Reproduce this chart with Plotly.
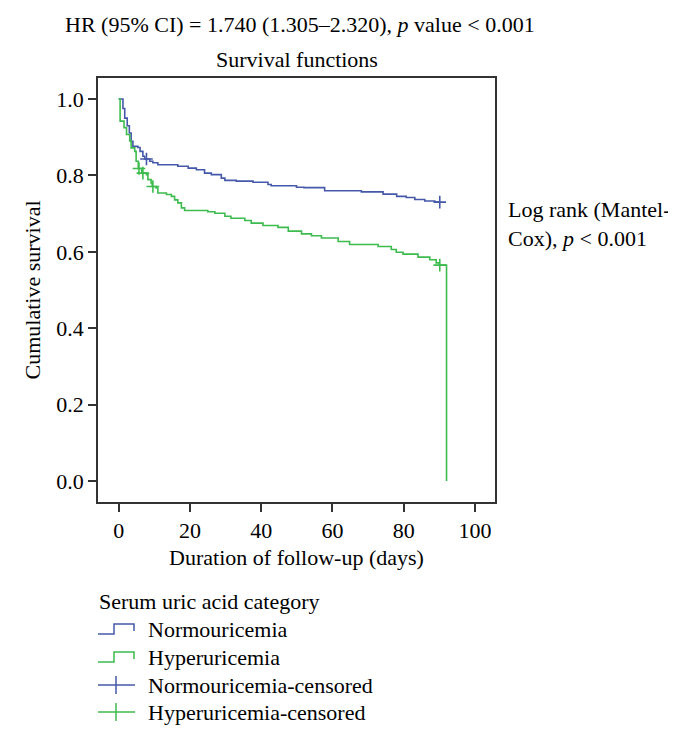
import plotly.graph_objects as go

# ---- data ----
normo_days = [0, 1.2, 1.7, 2.4, 3.0, 3.5, 4.0, 5.4, 6.0, 6.8, 7.3, 8.7, 9.6, 11.0, 16.6, 19.5, 21.8,
              24.1, 26.0, 28.8, 29.8, 33.0, 37.7, 41.9, 42.8, 49.9, 52.0, 57.8, 68.1, 74.2, 78.0,
              80.7, 83.1, 85.9, 88.7, 90.1]
normo_surv = [1.0, 0.975, 0.95, 0.93, 0.911, 0.889, 0.876, 0.873, 0.863, 0.85, 0.843, 0.837, 0.833,
              0.828, 0.824, 0.819, 0.815, 0.806, 0.802, 0.793, 0.787, 0.785, 0.782, 0.776, 0.773,
              0.769, 0.768, 0.760, 0.757, 0.751, 0.745, 0.742, 0.737, 0.733, 0.730, 0.730]

hyper_days = [0, 0.4, 1.5, 2.2, 3.1, 3.5, 4.5, 4.9, 5.5, 6.5, 7.8, 8.2, 9.1, 9.4, 10.5, 11.0, 13.4,
              14.8, 15.7, 16.6, 17.6, 18.5, 25.0, 27.0, 29.8, 31.5, 35.4, 37.2, 40.5, 44.7, 47.6,
              51.3, 54.1, 56.9, 61.6, 64.8, 72.8, 76.5, 77.9, 79.8, 84.0, 87.3, 89.1, 90.0, 92.0, 92.0]
hyper_surv = [1.0, 0.942, 0.925, 0.907, 0.89, 0.872, 0.863, 0.837, 0.818, 0.806, 0.802, 0.789, 0.780,
              0.771, 0.767, 0.754, 0.750, 0.745, 0.736, 0.728, 0.715, 0.708, 0.705, 0.701, 0.693,
              0.688, 0.682, 0.675, 0.669, 0.664, 0.654, 0.647, 0.642, 0.636, 0.627, 0.619, 0.614,
              0.606, 0.599, 0.594, 0.586, 0.579, 0.571, 0.565, 0.565, 0.0]

normo_cens_days = [7.8, 90.1]
normo_cens_surv = [0.843, 0.730]
hyper_cens_days = [5.7, 6.8, 9.6, 90.1]
hyper_cens_surv = [0.818, 0.806, 0.771, 0.565]

x_ticks = [0, 20, 40, 60, 80, 100]
y_ticks = [0.0, 0.2, 0.4, 0.6, 0.8, 1.0]

legend_title = "Serum uric acid category"
legend_labels = ["Normouricemia", "Hyperuricemia", "Normouricemia-censored", "Hyperuricemia-censored"]

BLUE = "#4558AA"
GREEN = "#3DBB4E"
FONT = "Liberation Serif"
FS = 22

W, H = 676, 730
L, R, T, B = 90, 487, 70, 494


def px(x):
    return (x - L) / (R - L)


def py(y):
    return (B - y) / (B - T)


fig = go.Figure()
fig.add_trace(go.Scatter(x=normo_days, y=normo_surv, mode="lines", line=dict(color=BLUE, width=1.6, shape="hv"),
                         showlegend=False, hoverinfo="skip"))
fig.add_trace(go.Scatter(x=hyper_days, y=hyper_surv, mode="lines", line=dict(color=GREEN, width=1.6, shape="hv"),
                         showlegend=False, hoverinfo="skip"))
fig.add_trace(go.Scatter(x=normo_cens_days, y=normo_cens_surv, mode="markers",
                         marker=dict(symbol="cross-thin", size=9, line=dict(color=BLUE, width=1.6)),
                         showlegend=False, hoverinfo="skip"))
fig.add_trace(go.Scatter(x=hyper_cens_days, y=hyper_cens_surv, mode="markers",
                         marker=dict(symbol="cross-thin", size=9, line=dict(color=GREEN, width=1.6)),
                         showlegend=False, hoverinfo="skip"))

shapes = []
annotations = []

# Titles
annotations.append(dict(text="HR (95% CI) = 1.740 (1.305\u20132.320), <i>p</i> value &lt; 0.001",
                        x=px(292), y=py(16), xref="paper", yref="paper", showarrow=False,
                        font=dict(family=FONT, size=FS, color="black"), xanchor="center", yanchor="middle"))
annotations.append(dict(text="Survival functions", x=px(289), y=py(51), xref="paper", yref="paper",
                        showarrow=False, font=dict(family=FONT, size=FS, color="black"),
                        xanchor="center", yanchor="middle"))
# Log rank note
annotations.append(dict(text="Log rank (Mantel-<br>Cox), <i>p</i> &lt; 0.001", x=px(498), y=py(216),
                        xref="paper", yref="paper", showarrow=False, align="left",
                        font=dict(family=FONT, size=FS, color="black"), xanchor="left", yanchor="middle"))

# Legend (custom)
annotations.append(dict(text=legend_title, x=px(89), y=py(593), xref="paper", yref="paper", showarrow=False,
                        font=dict(family=FONT, size=FS, color="black"), xanchor="left", yanchor="middle"))
item_y = [621, 649, 677, 704]
cols = [BLUE, GREEN, BLUE, GREEN]
for i, (lab, yy, c) in enumerate(zip(legend_labels, item_y, cols)):
    annotations.append(dict(text=lab, x=px(138), y=py(yy), xref="paper", yref="paper", showarrow=False,
                            font=dict(family=FONT, size=FS, color="black"), xanchor="left", yanchor="middle"))
    if i < 2:
        path = (f"M {px(90)},{py(yy + 5)} L {px(106)},{py(yy + 5)} L {px(106)},{py(yy - 5)} "
                f"L {px(126)},{py(yy - 5)} L {px(126)},{py(yy + 2)}")
        shapes.append(dict(type="path", path=path, xref="paper", yref="paper",
                           line=dict(color=c, width=1.5)))
    else:
        shapes.append(dict(type="line", x0=px(90), x1=px(127), y0=py(yy), y1=py(yy), xref="paper", yref="paper",
                           line=dict(color=c, width=1.5)))
        shapes.append(dict(type="line", x0=px(108), x1=px(108), y0=py(yy - 9), y1=py(yy + 9), xref="paper",
                           yref="paper", line=dict(color=c, width=1.5)))

fig.update_layout(
    width=W, height=H,
    margin=dict(l=L, r=W - R, t=T, b=H - B, pad=0),
    paper_bgcolor="white", plot_bgcolor="white",
    font=dict(family=FONT, size=FS, color="black"),
    shapes=shapes, annotations=annotations,
    showlegend=False,
)
fig.update_xaxes(range=[-5.8, 105.6], tickvals=x_ticks, ticktext=[str(v) for v in x_ticks],
                 showline=True, linecolor="#333", linewidth=1.5, mirror=True,
                 ticks="outside", ticklen=8, tickcolor="#333", tickwidth=1.5,
                 showgrid=False, zeroline=False, tickfont=dict(family=FONT, size=FS),
                 title=dict(text="Duration of follow-up (days)", font=dict(family=FONT, size=FS), standoff=7))
fig.update_yaxes(range=[-0.055, 1.055], tickvals=y_ticks, ticktext=[f"{v:.1f}" for v in y_ticks],
                 showline=True, linecolor="#333", linewidth=1.5, mirror=True,
                 ticks="outside", ticklen=8, tickcolor="#333", tickwidth=1.5,
                 showgrid=False, zeroline=False, tickfont=dict(family=FONT, size=FS),
                 title=dict(text="Cumulative survival", font=dict(family=FONT, size=FS), standoff=10))

fig.write_html("out.html")
